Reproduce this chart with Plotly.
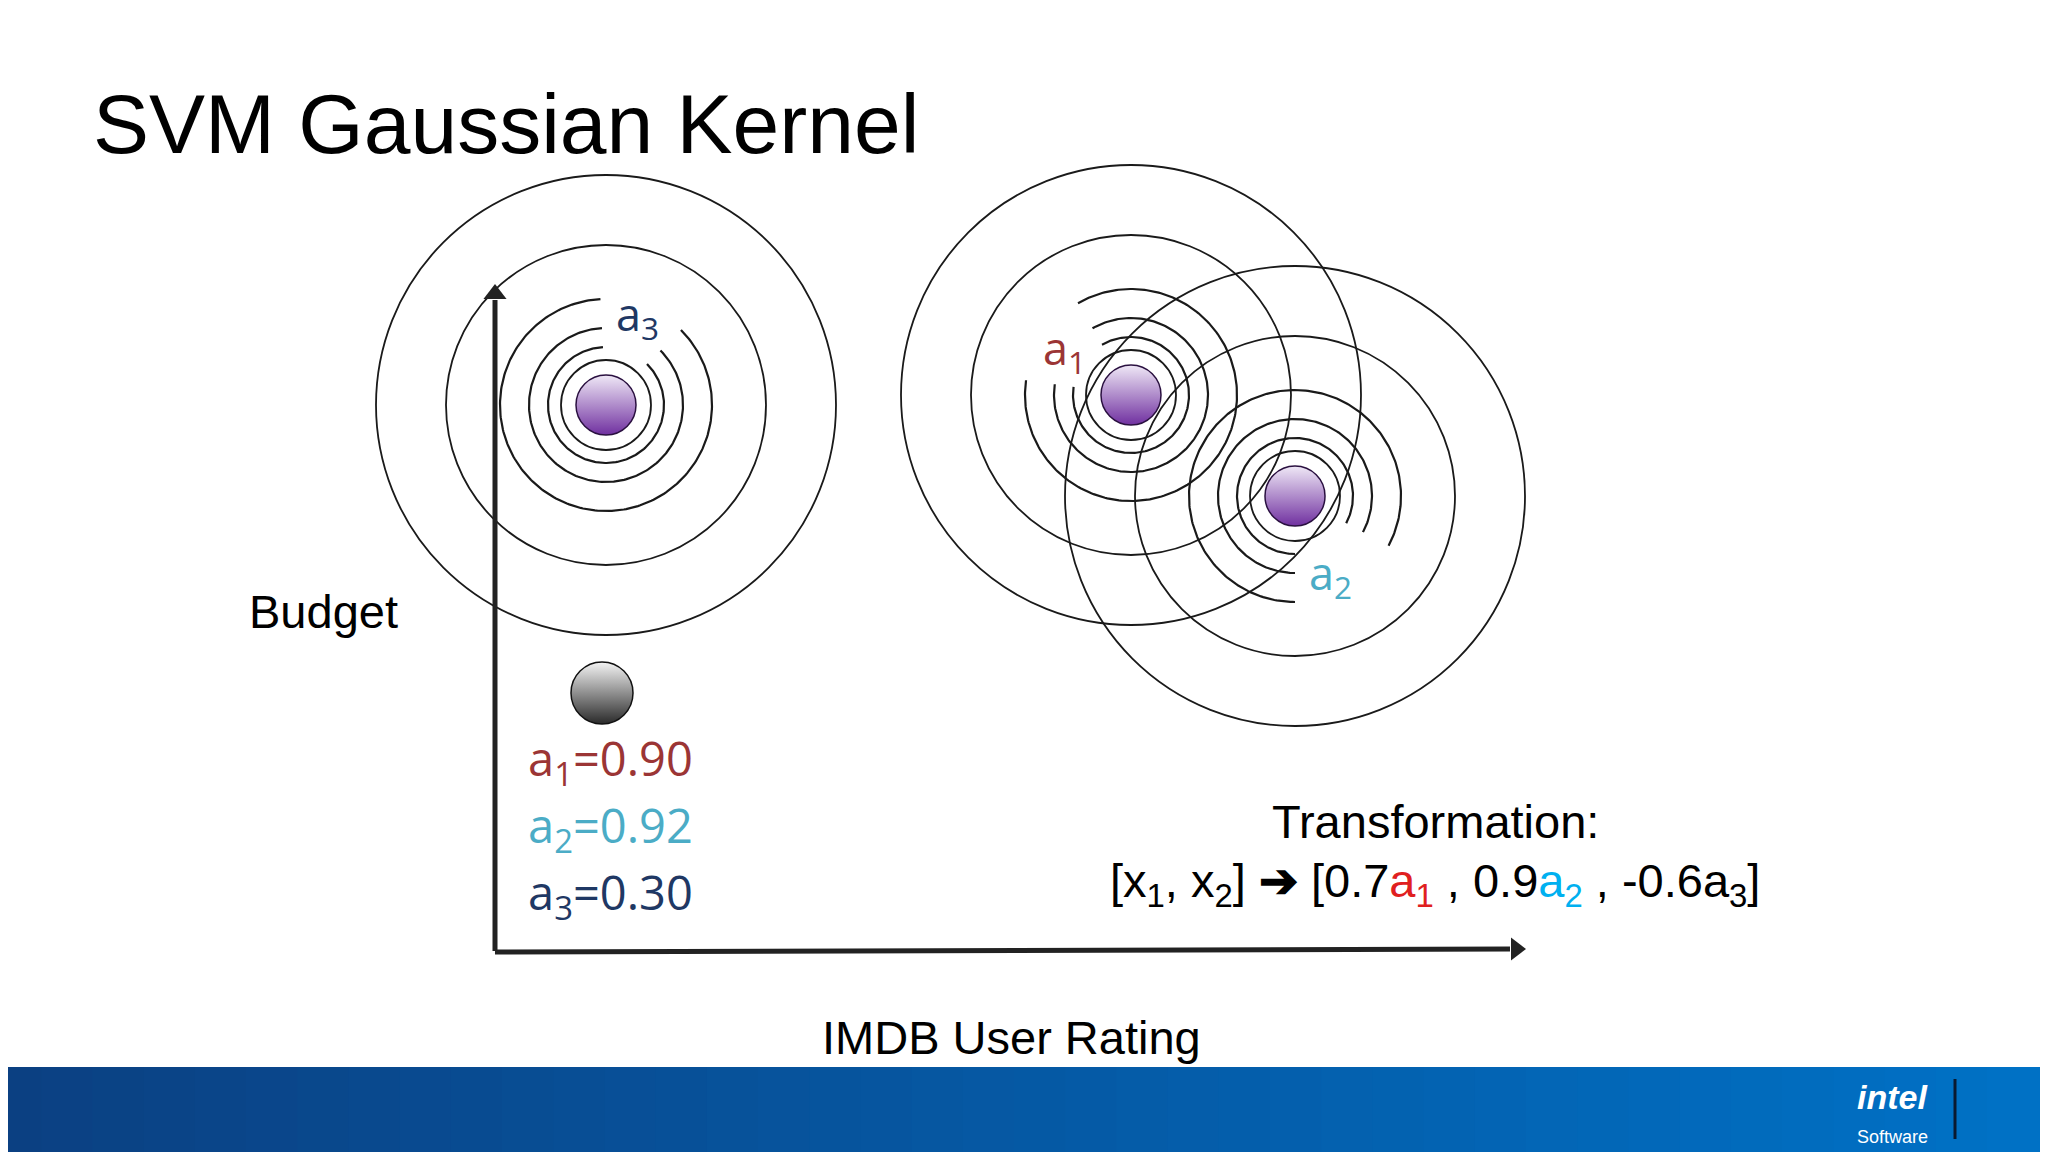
import numpy as np
import plotly.graph_objects as go

W, H = 2048, 1152
PAGE_OFFSET = 8  # the page body pushes the figure by a few pixels

# kernel landmarks (pixel coords of the slide)
landmark_names = ["a1", "a2", "a3"]
landmark_x = [1131, 1295, 606]
landmark_y = [395, 496, 405]
landmark_label_x = [1064, 1330, 637]
landmark_label_y = [350, 575, 316]
landmark_colors = ["#9b3535", "#4bacc6", "#1f3864"]

# full rings and broken rings around every landmark
full_radii = [45, 160, 230]
broken_radii = [58, 77, 106]
# gap in each broken ring (degrees, counterclockwise from +x, screen up)
gap_start = [120, -90, 45]
gap_end = [172, -28, 93]

# query point and its similarities
query_x, query_y = 602, 693
similarity_values = [0.90, 0.92, 0.30]
similarity_y = [761, 828, 895]

BALL_D = 60
BALL_COLOR = "#7030a0"

fig = go.Figure()
shapes = []

for cx, cy in zip(landmark_x, landmark_y):
    for r in full_radii:
        shapes.append(dict(type="circle", xref="x", yref="y", x0=cx - r, x1=cx + r, y0=cy - r, y1=cy + r,
                           line=dict(color="#1a1a1a", width=1.8), layer="below"))

for i, (cx, cy) in enumerate(zip(landmark_x, landmark_y)):
    t = np.radians(np.linspace(gap_end[i], gap_start[i] + 360, 240))
    for r in broken_radii:
        fig.add_trace(go.Scatter(x=cx + r * np.cos(t), y=cy - r * np.sin(t), mode="lines",
                                 line=dict(color="#1a1a1a", width=2.2), hoverinfo="skip", showlegend=False))

# landmark balls
fig.add_trace(go.Scatter(
    x=landmark_x, y=landmark_y, mode="markers", hoverinfo="skip", showlegend=False,
    marker=dict(size=BALL_D, color="#efe8f6", line=dict(color="#2a1040", width=1.5),
                gradient=dict(type="vertical", color=BALL_COLOR)),
))
# query ball
fig.add_trace(go.Scatter(
    x=[query_x], y=[query_y], mode="markers", hoverinfo="skip", showlegend=False,
    marker=dict(size=62, color="#f4f4f4", line=dict(color="#111", width=1.5),
                gradient=dict(type="vertical", color="#2a2a2a")),
))

# axes arrows
shapes.append(dict(type="line", x0=495, x1=495, y0=951, y1=300, line=dict(color="#222", width=5)))
shapes.append(dict(type="line", x0=495, x1=1510, y0=952, y1=949, line=dict(color="#222", width=5)))
fig.add_trace(go.Scatter(x=[495, 1516], y=[294, 949], mode="markers", hoverinfo="skip", showlegend=False,
                         marker=dict(symbol=["triangle-up", "triangle-right"], size=20, color="#222")))

# footer band (stepped gradient)
n_steps = 40
c0 = np.array([11, 64, 130])
c1 = np.array([0, 113, 197])
for k in range(n_steps):
    c = c0 + (c1 - c0) * k / (n_steps - 1)
    shapes.append(dict(type="rect", x0=k * W / n_steps - 10, x1=(k + 1) * W / n_steps + 12, y0=1067, y1=H + 20,
                       line=dict(width=0), fillcolor=f"rgb({c[0]:.0f},{c[1]:.0f},{c[2]:.0f})"))
shapes.append(dict(type="line", x0=1955, x1=1955, y0=1079, y1=1139, line=dict(color="#0a1a30", width=3)))

ann = []
def text(x, y, s, size, color="black", family="Liberation Sans, Arial", xanchor="center"):
    ann.append(dict(x=x, y=y, text=s, showarrow=False, xanchor=xanchor, yanchor="middle",
                    font=dict(size=size, color=color, family=family)))

text(91, 124, "SVM Gaussian Kernel", 84, xanchor="left")
text(323, 611, "Budget", 47)
text(1011, 1037, "IMDB User Rating", 47)
text(1435, 821, "Transformation:", 47)
sub = lambda n: f"<sub>{n}</sub>"
text(1435, 884,
     f"[x{sub(1)}, x{sub(2)}] <b>\u2794</b> [0.7<span style='color:#e02020'>a{sub(1)}</span> , "
     f"0.9<span style='color:#00b0f0'>a{sub(2)}</span> , -0.6a{sub(3)}]", 47)

calibri = "Open Sans, Lato, sans-serif"
for i in range(3):
    text(landmark_label_x[i], landmark_label_y[i], f"a{sub(i + 1)}", 45, landmark_colors[i], calibri)
    text(526, similarity_y[i], f"a{sub(i + 1)}={similarity_values[i]:.2f}", 47, landmark_colors[i], calibri,
         xanchor="left")

text(1892, 1097, "<i><b>intel</b></i>", 34, "white", "Liberation Sans")
text(1892, 1137, "Software", 18, "white", "Liberation Sans")

fig.update_layout(
    width=W, height=H, margin=dict(l=0, r=0, t=0, b=0),
    paper_bgcolor="white", plot_bgcolor="white",
    xaxis=dict(range=[PAGE_OFFSET, W + PAGE_OFFSET], visible=False, fixedrange=True),
    yaxis=dict(range=[H + PAGE_OFFSET, PAGE_OFFSET], visible=False, fixedrange=True),
    shapes=shapes, annotations=ann, showlegend=False,
)
fig.write_html("out.html")
